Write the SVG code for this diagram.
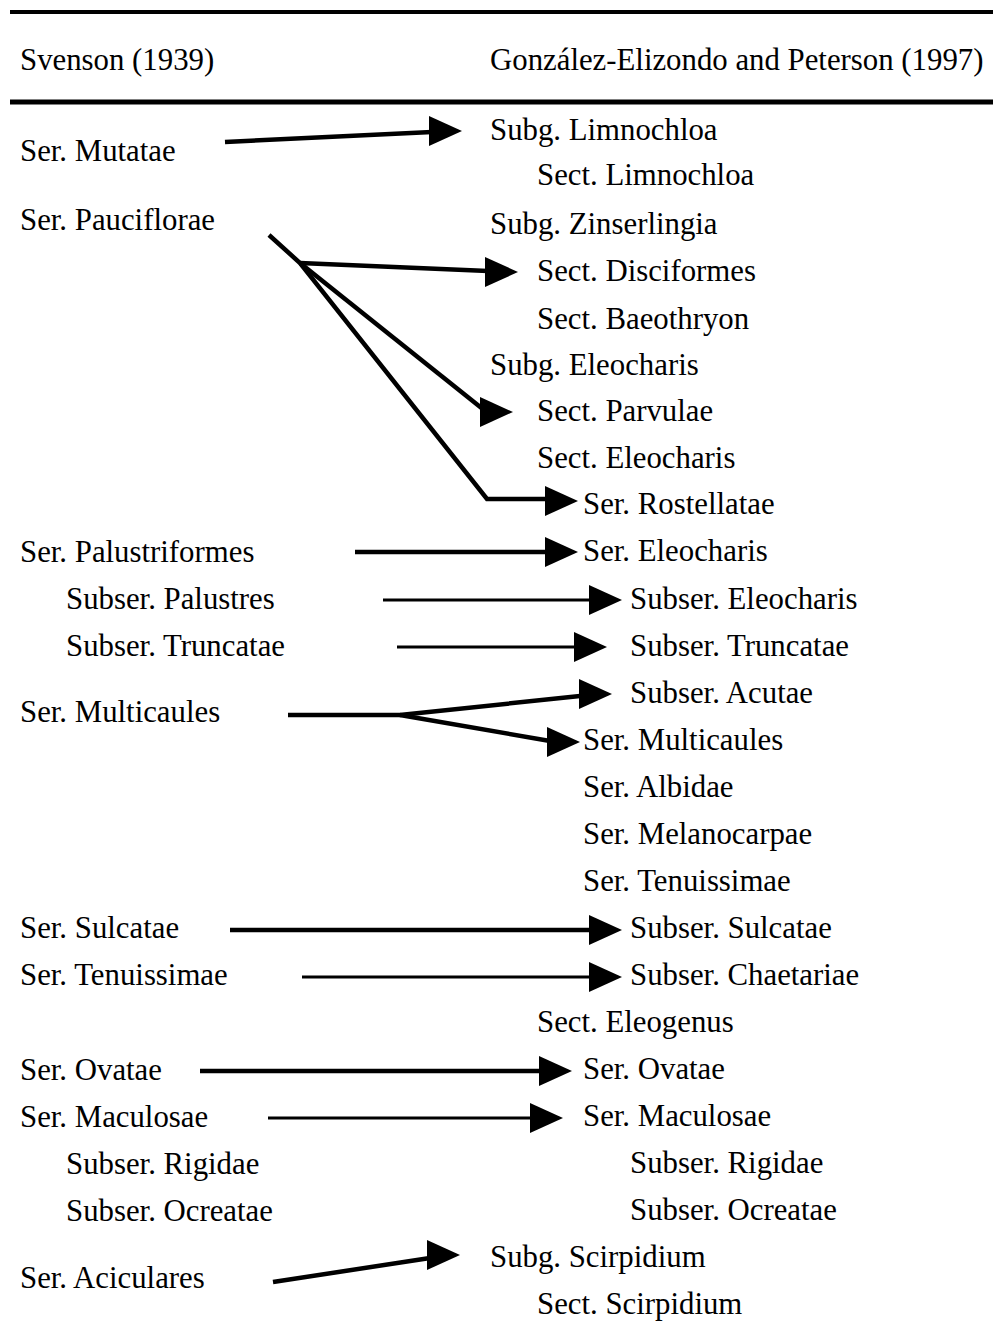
<svg xmlns="http://www.w3.org/2000/svg" width="993" height="1322" viewBox="0 0 993 1322">
<style>
text{font-family:"Liberation Serif","Times New Roman",serif;font-size:30.8px;fill:#000}
.ln{stroke:#000;stroke-width:4.5;fill:none}
.tn{stroke:#000;stroke-width:3;fill:none}
.rule{stroke:#000}
</style>
<defs>
<path id="ah" d="M0,0 L-33,-15 L-33,15 Z" fill="#000"/>
</defs>
<rect width="993" height="1322" fill="#fff"/>
<line class="rule" x1="10" y1="12" x2="993" y2="12" stroke-width="4"/>
<line class="rule" x1="10" y1="102" x2="993" y2="102" stroke-width="5"/>
<g id="header">
<text x="20" y="70">Svenson (1939)</text>
<text x="490" y="70">González-Elizondo and Peterson (1997)</text>
</g>
<g id="left">
<text id="l-mutatae" x="20" y="161">Ser. Mutatae</text>
<text id="l-pauciflorae" x="20" y="230">Ser. Pauciflorae</text>
<text id="l-palustriformes" x="20" y="562">Ser. Palustriformes</text>
<text id="l-palustres" x="66" y="609">Subser. Palustres</text>
<text id="l-truncatae" x="66" y="656">Subser. Truncatae</text>
<text id="l-multicaules" x="20" y="722">Ser. Multicaules</text>
<text id="l-sulcatae" x="20" y="938">Ser. Sulcatae</text>
<text id="l-tenuissimae" x="20" y="985">Ser. Tenuissimae</text>
<text id="l-ovatae" x="20" y="1080">Ser. Ovatae</text>
<text id="l-maculosae" x="20" y="1127">Ser. Maculosae</text>
<text id="l-rigidae" x="66" y="1174">Subser. Rigidae</text>
<text id="l-ocreatae" x="66" y="1221">Subser. Ocreatae</text>
<text id="l-aciculares" x="20" y="1288">Ser. Aciculares</text>
</g>
<g id="right">
<text x="490" y="140">Subg. Limnochloa</text>
<text x="537" y="185">Sect. Limnochloa</text>
<text x="490" y="234">Subg. Zinserlingia</text>
<text x="537" y="281">Sect. Disciformes</text>
<text x="537" y="329">Sect. Baeothryon</text>
<text x="490" y="375">Subg. Eleocharis</text>
<text x="537" y="421">Sect. Parvulae</text>
<text x="537" y="468">Sect. Eleocharis</text>
<text x="583" y="514">Ser. Rostellatae</text>
<text x="583" y="561">Ser. Eleocharis</text>
<text x="630" y="609">Subser. Eleocharis</text>
<text x="630" y="656">Subser. Truncatae</text>
<text x="630" y="703">Subser. Acutae</text>
<text x="583" y="750">Ser. Multicaules</text>
<text x="583" y="797">Ser. Albidae</text>
<text x="583" y="844">Ser. Melanocarpae</text>
<text x="583" y="891">Ser. Tenuissimae</text>
<text x="630" y="938">Subser. Sulcatae</text>
<text x="630" y="985">Subser. Chaetariae</text>
<text x="537" y="1032">Sect. Eleogenus</text>
<text x="583" y="1079">Ser. Ovatae</text>
<text x="583" y="1126">Ser. Maculosae</text>
<text x="630" y="1173">Subser. Rigidae</text>
<text x="630" y="1220">Subser. Ocreatae</text>
<text x="490" y="1267">Subg. Scirpidium</text>
<text x="537" y="1314">Sect. Scirpidium</text>
</g>
<g id="connectors">
<line class="ln" x1="225" y1="142" x2="432" y2="132"/>
<use href="#ah" x="462" y="131"/>
<polyline class="ln" points="269,235 300,263 487,499 547,499"/>
<use href="#ah" x="578" y="501"/>
<line class="ln" x1="300" y1="263" x2="488" y2="271"/>
<use href="#ah" x="518" y="272"/>
<line class="ln" x1="300" y1="263" x2="484" y2="410"/>
<use href="#ah" x="513" y="412"/>
<line class="ln" x1="355" y1="552" x2="547" y2="552"/>
<use href="#ah" x="578" y="552"/>
<line class="tn" x1="383" y1="600" x2="592" y2="600"/>
<use href="#ah" x="622" y="600"/>
<line class="tn" x1="397" y1="647" x2="577" y2="647"/>
<use href="#ah" x="607" y="647"/>
<polyline class="ln" points="288,715 400,715 580,696"/>
<use href="#ah" x="612" y="694"/>
<line class="ln" x1="400" y1="715" x2="550" y2="741"/>
<use href="#ah" x="580" y="742"/>
<line class="ln" x1="230" y1="930" x2="592" y2="930"/>
<use href="#ah" x="622" y="930"/>
<line class="tn" x1="302" y1="977" x2="592" y2="977"/>
<use href="#ah" x="622" y="977"/>
<line class="ln" x1="200" y1="1071" x2="542" y2="1071"/>
<use href="#ah" x="572" y="1071"/>
<line class="tn" x1="268" y1="1118" x2="533" y2="1118"/>
<use href="#ah" x="563" y="1118"/>
<line class="ln" x1="273" y1="1282" x2="430" y2="1258"/>
<use href="#ah" x="460" y="1255"/>
</g>
</svg>
